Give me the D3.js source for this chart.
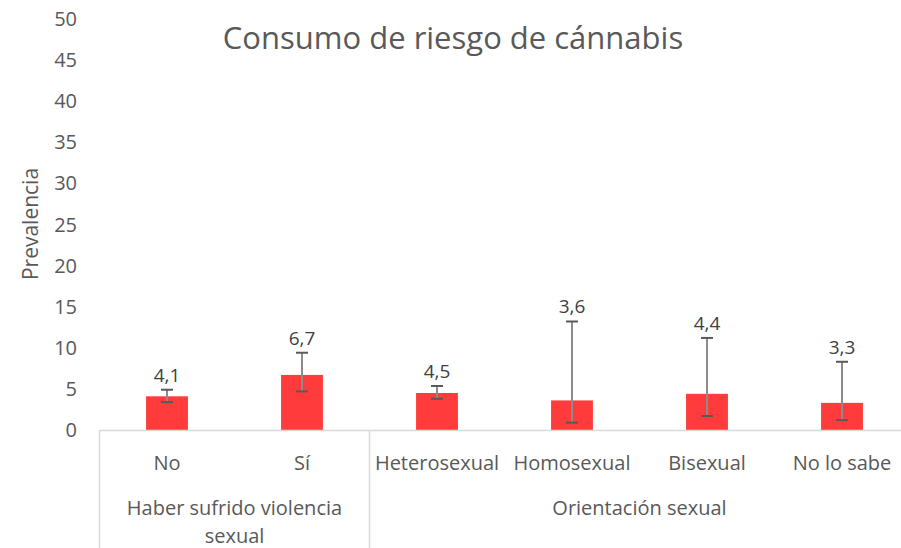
<!DOCTYPE html>
<html lang="es">
<head>
<meta charset="UTF-8">
<title>Consumo de riesgo de cánnabis</title>
<script src="https://cdnjs.cloudflare.com/ajax/libs/d3/7.8.5/d3.min.js"></script>
<style>
  body { margin: 0; background: #fff; font-family: "Open Sans", sans-serif; }
  svg { display: block; }
</style>
</head>
<body>
<div id="chart"></div>
<script>
// data
const categories = ["No", "Sí", "Heterosexual", "Homosexual", "Bisexual", "No lo sabe"];
const values = [4.1, 6.7, 4.5, 3.6, 4.4, 3.3];
const errLow = [3.4, 4.7, 3.8, 0.9, 1.7, 1.2];
const errHigh = [4.9, 9.4, 5.35, 13.2, 11.2, 8.3];
const groups = [
  { name: ["Haber sufrido violencia", "sexual"], size: 2 },
  { name: ["Orientación sexual"], size: 4 }
];
const yTicks = [0, 5, 10, 15, 20, 25, 30, 35, 40, 45, 50];

const width = 901, height = 548;
const textColor = "#595959";

const svg = d3.select("#chart").append("svg")
  .attr("width", width)
  .attr("height", height);

// the plot area runs a bit past the right edge of the picture
const x = d3.scaleBand()
  .domain(categories)
  .range([99.5, 909.5])
  .paddingInner(0.69)
  .paddingOuter(0.345);

const y = d3.scaleLinear()
  .domain([0, 50])
  .range([430, 19]);

// title
svg.append("text")
  .attr("x", 453)
  .attr("y", 49)
  .attr("text-anchor", "middle")
  .attr("fill", textColor)
  .style("font-size", "31px")
  .text("Consumo de riesgo de cánnabis");

// y axis labels
svg.append("g")
  .selectAll("text")
  .data(yTicks)
  .join("text")
  .attr("x", 77)
  .attr("y", d => y(d) + 7)
  .attr("text-anchor", "end")
  .attr("fill", textColor)
  .style("font-size", "20px")
  .text(d => d);

svg.append("text")
  .attr("transform", `translate(38,224) rotate(-90)`)
  .attr("text-anchor", "middle")
  .attr("fill", textColor)
  .style("font-size", "21px")
  .text("Prevalencia");

// bars
svg.append("g")
  .selectAll("rect")
  .data(categories)
  .join("rect")
  .attr("x", d => x(d))
  .attr("y", (d, i) => y(values[i]))
  .attr("width", x.bandwidth())
  .attr("height", (d, i) => y(0) - y(values[i]))
  .attr("fill", "#ff3b3b");

// error bars
const eb = svg.append("g")
  .selectAll("g")
  .data(categories)
  .join("g")
  .attr("transform", d => `translate(${x(d) + x.bandwidth() / 2},0)`);

eb.append("line")
  .attr("y1", (d, i) => y(errLow[i]))
  .attr("y2", (d, i) => y(errHigh[i]))
  .attr("stroke", "#8c8c8c")
  .attr("stroke-width", 2);

eb.selectAll(".cap")
  .data((d, i) => [errLow[i], errHigh[i]])
  .join("line")
  .attr("class", "cap")
  .attr("x1", -6).attr("x2", 6)
  .attr("y1", v => y(v)).attr("y2", v => y(v))
  .attr("stroke", "#595959")
  .attr("stroke-width", 2);

// data labels
eb.append("text")
  .attr("y", (d, i) => y(errHigh[i]) - 8)
  .attr("text-anchor", "middle")
  .attr("fill", "#404040")
  .style("font-size", "19px")
  .text((d, i) => d3.format(".1f")(values[i]).replace(".", ","));

// category axis
const axisColor = "#d9d9d9";
svg.append("line")
  .attr("x1", 99.5).attr("x2", width)
  .attr("y1", 430.5).attr("y2", 430.5)
  .attr("stroke", axisColor)
  .attr("stroke-width", 1.5);

let start = 0;
const bounds = [0];
groups.forEach(g => { start += g.size; bounds.push(start); });
const step = x.step();
const x0 = x.range()[0];

svg.append("g")
  .selectAll("line")
  .data(bounds)
  .join("line")
  .attr("x1", d => x0 + d * step)
  .attr("x2", d => x0 + d * step)
  .attr("y1", 430)
  .attr("y2", height)
  .attr("stroke", axisColor)
  .attr("stroke-width", 1.5);

svg.append("g")
  .selectAll("text")
  .data(categories)
  .join("text")
  .attr("x", d => x(d) + x.bandwidth() / 2)
  .attr("y", 470)
  .attr("text-anchor", "middle")
  .attr("fill", textColor)
  .style("font-size", "20px")
  .text(d => d);

groups.forEach((g, gi) => {
  const cx = x0 + (bounds[gi] + g.size / 2) * step;
  svg.append("text")
    .attr("x", cx)
    .attr("y", 515)
    .attr("text-anchor", "middle")
    .attr("fill", textColor)
    .style("font-size", "20px")
    .selectAll("tspan")
    .data(g.name)
    .join("tspan")
    .attr("x", cx)
    .attr("dy", (d, i) => i === 0 ? 0 : 28)
    .text(d => d);
});
</script>
</body>
</html>
